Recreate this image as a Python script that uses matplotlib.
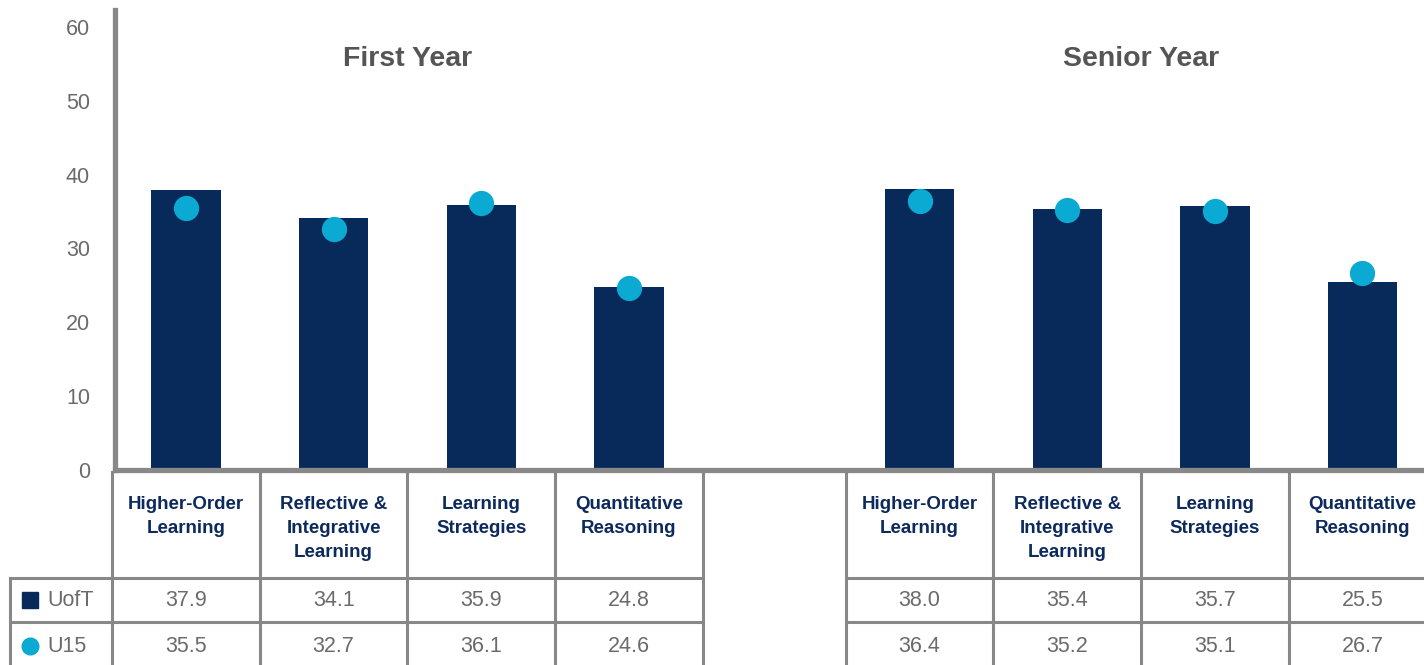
import numpy as np
import matplotlib.pyplot as plt

plt.rcParams['font.family'] = ['Liberation Sans', 'DejaVu Sans']

# data
categories = ["Higher-Order\nLearning", "Reflective &\nIntegrative\nLearning",
              "Learning\nStrategies", "Quantitative\nReasoning"]
groups = ["First Year", "Senior Year"]
series_names = ["UofT", "U15"]
uoft_first = [37.9, 34.1, 35.9, 24.8]
u15_first = [35.5, 32.7, 36.1, 24.6]
uoft_senior = [38.0, 35.4, 35.7, 25.5]
u15_senior = [36.4, 35.2, 35.1, 26.7]
yticks = [0, 10, 20, 30, 40, 50, 60]

NAVY = '#082a5b'
CYAN = '#0aaad3'
GRID = '#888888'
TXT = '#6b6b6b'

W, H = 1424, 665
fig = plt.figure(figsize=(W / 100, H / 100), dpi=100)

x_lo, x_hi = -0.481, 8.387
offsets = [0.0, 4.97]
uoft = [uoft_first, uoft_senior]
u15 = [u15_first, u15_senior]

ax = fig.add_axes([115 / W, (H - 470) / H, (W - 115) / W, 460 / H])
for off, bars, dots, name in zip(offsets, uoft, u15, groups):
    xs = np.arange(len(categories)) + off
    ax.bar(xs, bars, width=0.47, color=NAVY, zorder=2)
    ax.scatter(xs, dots, s=330, color=CYAN, zorder=3, linewidths=0)
    ax.text(off + 1.5, 55.6, name, ha='center', va='center',
            fontsize=20.5, fontweight='bold', color='#555555')

ax.set_xlim(x_lo, x_hi)
ax.set_ylim(0, 62.3)
ax.set_yticks(yticks)
ax.set_xticks([])
ax.tick_params(axis='y', length=0, pad=18, labelsize=15.5, labelcolor=TXT)
for s in ['top', 'right']:
    ax.spines[s].set_visible(False)
for s in ['left', 'bottom']:
    ax.spines[s].set_color(GRID)
    ax.spines[s].set_linewidth(3.8)

# table underneath, y in pixel rows
tb = fig.add_axes([115 / W, 0, (W - 115) / W, (H - 472) / H])
tb.set_xlim(x_lo, x_hi)
tb.set_ylim(H, 472)
tb.axis('off')

row_a, row_b = 578, 622
lw = 2.2
for gi, off in enumerate(offsets):
    left, right = off - 0.5, off + len(categories) - 0.5
    for k in range(len(categories) + 1):
        tb.plot([left + k, left + k], [472, H], color=GRID, lw=lw, clip_on=False)
    for yy in (row_a, row_b):
        tb.plot([left, right], [yy, yy], color=GRID, lw=lw, clip_on=False)
    for i, cat in enumerate(categories):
        xc = off + i
        tb.text(xc, 496, cat, ha='center', va='top', fontsize=13.5,
                fontweight='bold', color='#0d2a5c', linespacing=1.55)
        tb.text(xc, 601, f"{uoft[gi][i]:.1f}", ha='center', va='center',
                fontsize=15.5, color=TXT)
        tb.text(xc, 646, f"{u15[gi][i]:.1f}", ha='center', va='center',
                fontsize=15.5, color=TXT)

# legend column on the left
lab_left = -1.192
for yy in (row_a, row_b):
    tb.plot([lab_left, -0.5], [yy, yy], color=GRID, lw=lw, clip_on=False)
tb.plot([lab_left, lab_left], [row_a, H], color=GRID, lw=lw, clip_on=False)
tb.plot([-1.057], [600], marker='s', ms=11, color=NAVY, clip_on=False, ls='none')
tb.plot([-1.057], [646], marker='o', ms=12, color=CYAN, clip_on=False, ls='none')
tb.text(-0.94, 601, series_names[0], ha='left', va='center', fontsize=15.5, color=TXT)
tb.text(-0.94, 646, series_names[1], ha='left', va='center', fontsize=15.5, color=TXT)

fig.savefig('out.png', dpi=100)
